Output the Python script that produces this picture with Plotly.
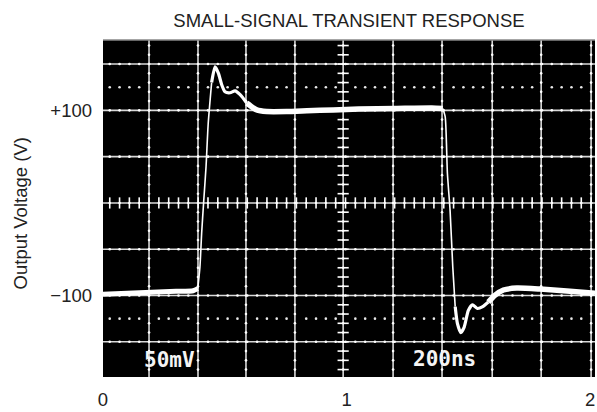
import plotly.graph_objects as go

# ---- data ----
time_axis = [0.00, 0.10, 0.20, 0.30, 0.37, 0.389, 0.398, 0.405, 0.413, 0.423,
             0.432, 0.446, 0.460, 0.474, 0.487, 0.501, 0.522, 0.542, 0.563, 0.590,
             0.631, 0.672, 0.754, 0.837, 0.945, 1.05, 1.20, 1.35, 1.395, 1.405,
             1.414, 1.425, 1.436, 1.446, 1.455, 1.469, 1.483, 1.500, 1.517, 1.537,
             1.559, 1.582, 1.610, 1.644, 1.699, 1.795, 1.904, 2.02]
voltage = [-98.5, -97.5, -96.5, -95.5, -94.8, -92.5, -69, -33, 0, 39,
           86, 130, 147, 140, 128, 120, 119, 121, 117, 108,
           100.5, 98.7, 98.7, 99.5, 100.5, 101.5, 102, 102.5, 102, 93,
           32, -8, -69, -112, -130, -140, -134, -116, -110, -114,
           -112, -107, -99.5, -94, -92, -93, -95, -97.5]

x_tickvals = [0, 1, 2]
x_ticktext = ["0", "1", "2"]
y_tickvals = [-100, 100]
y_ticktext = ["\u2212100", "+100"]
chart_title = "SMALL-SIGNAL TRANSIENT RESPONSE"
y_title = "Output Voltage (V)"
scope_labels = ["50mV", "200ns"]
scope_label_x = [0.271, 1.402]
scope_label_y = [-170, -169]

# ---- styling / layout constants ----
XR = [0, 2.02]
YR = [-188, 176]
grid_x = [0.189, 0.390, 0.587, 0.788, 0.986, 1.191, 1.392, 1.598, 1.799, 2.004]
grid_y = [-150, -100, -50, 0, 50, 100, 150]
marker_levels = [-125, 125]
center_x = grid_x[4]
center_y = 0
sub_x = (grid_x[-1] - grid_x[0]) / 45.0
sub_y = 10

# segments of the trace with different brightness/thickness (index ranges)
segments = [(0, 5, 5), (5, 11, 1.6), (11, 19, 3.2), (19, 28, 5.5),
            (28, 33, 1.6), (33, 41, 3.2), (41, len(time_axis) - 1, 5.5)]

fig = go.Figure()

shapes = []
for gx in grid_x:
    shapes.append(dict(type="line", xref="x", yref="y", x0=gx, x1=gx, y0=YR[0], y1=YR[1],
                       line=dict(color="#d8d8d8", width=1.6), layer="below"))
for gy in grid_y:
    shapes.append(dict(type="line", xref="x", yref="y", x0=XR[0], x1=XR[1], y0=gy, y1=gy,
                       line=dict(color="#d8d8d8", width=1.6), layer="below"))
# thin gray top border of the photo
shapes.append(dict(type="line", xref="paper", yref="paper", x0=0, x1=1, y0=1, y1=1,
                   line=dict(color="#888888", width=1.5)))

# subdivision positions
sub_xs = []
k = -5
while True:
    v = grid_x[0] + sub_x * k
    if v > XR[1]:
        break
    if v >= XR[0]:
        sub_xs.append((k, v))
    k += 1
sub_ys = [v for v in range(-180, 180, sub_y)]

# beads along grid lines
bx, by = [], []
for gx in grid_x:
    for v in sub_ys:
        bx.append(gx); by.append(v)
for gy in grid_y:
    for kk, v in sub_xs:
        bx.append(v); by.append(gy)
fig.add_trace(go.Scatter(x=bx, y=by, mode="markers", hoverinfo="skip", showlegend=False,
                         marker=dict(color="#ffffff", size=2.6, line=dict(width=0))))

# dotted marker levels
dx, dy = [], []
for lv in marker_levels:
    for kk, v in sub_xs:
        if kk % 5 != 0:
            dx.append(v); dy.append(lv)
fig.add_trace(go.Scatter(x=dx, y=dy, mode="markers", hoverinfo="skip", showlegend=False,
                         marker=dict(color="#e8e8e8", size=2.6, line=dict(width=0))))

# minor ticks along centre lines
fig.add_trace(go.Scatter(x=[v for kk, v in sub_xs], y=[center_y] * len(sub_xs), mode="markers",
                         hoverinfo="skip", showlegend=False,
                         marker=dict(symbol="line-ns", size=8, line=dict(color="#ffffff", width=1.6))))
fig.add_trace(go.Scatter(x=[center_x] * len(sub_ys), y=sub_ys, mode="markers",
                         hoverinfo="skip", showlegend=False,
                         marker=dict(symbol="line-ew", size=8, line=dict(color="#ffffff", width=1.6))))

# the trace
for a, b, w in segments:
    fig.add_trace(go.Scatter(x=time_axis[a:b + 1], y=voltage[a:b + 1], mode="lines",
                             line=dict(color="#ffffff", width=w, shape="spline", smoothing=0.6),
                             hoverinfo="skip", showlegend=False))

annotations = []
for t, ax_, ay_ in zip(scope_labels, scope_label_x, scope_label_y):
    annotations.append(dict(text=t, x=ax_, y=ay_, xref="x", yref="y", showarrow=False,
                            xanchor="center", yanchor="middle",
                            font=dict(family="DejaVu Sans Mono", size=21, color="#f4f4f4",
                                      weight="bold")))
annotations.append(dict(text=y_title, x=-0.167, y=0.485, xref="paper", yref="paper",
                        showarrow=False, textangle=-90, xanchor="center", yanchor="middle",
                        font=dict(family="Liberation Sans", size=18.5, color="#222222")))

fig.update_layout(
    width=597, height=412,
    margin=dict(l=103, r=2, t=40, b=35),
    paper_bgcolor="#ffffff", plot_bgcolor="#000000",
    title=dict(text=chart_title, x=0.5, xref="paper", y=0.951, yref="container",
               xanchor="center", yanchor="middle",
               font=dict(family="Liberation Sans", size=18.5, color="#222222")),
    shapes=shapes, annotations=annotations,
    xaxis=dict(range=XR, showgrid=False, zeroline=False, tickvals=x_tickvals, ticktext=x_ticktext,
               ticks="", ticklabelstandoff=9,
               tickfont=dict(family="Liberation Sans", size=18.5, color="#222222"), fixedrange=True),
    yaxis=dict(range=YR, showgrid=False, zeroline=False, tickvals=y_tickvals, ticktext=y_ticktext,
               ticks="", ticklabelstandoff=10,
               tickfont=dict(family="Liberation Sans", size=18.5, color="#222222"), fixedrange=True),
)

fig.write_html("out.html",
               config={"displayModeBar": False, "staticPlot": True},
               post_script="document.body.style.margin='0';"
                           "document.documentElement.style.overflow='hidden';")
